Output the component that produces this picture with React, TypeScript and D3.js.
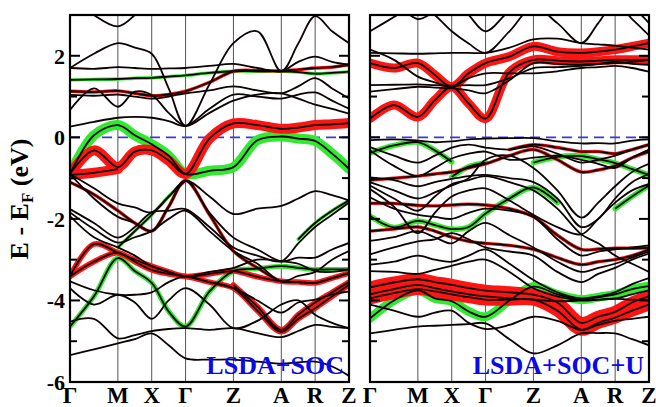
import React, { useEffect, useRef } from 'react';
import * as d3 from 'd3';

const kLabels = ['Γ', 'M', 'X', 'Γ', 'Z', 'A', 'R', 'Z'];
const kNodes = [0, 1, 1.707, 2.414, 3.414, 4.414, 5.121, 5.828];
// k points where energies were read (nodes plus segment midpoints)
const kPath = [0, 0.5, 1, 1.354, 1.707, 2.061, 2.414, 2.914, 3.414, 3.914, 4.414, 4.768, 5.121, 5.475, 5.828];
const yMajor = [-6, -4, -2, 0, 2];
const yMinor = [-5, -3, -1, 1];
const N = null;

// ---------- LSDA+SOC ----------
const socBlack = [
  [3.5, 3.0, 2.72, 3.0, 3.5, 3.6, 3.6, 3.5, 3.3, 3.3, 3.4, 3.3, 3.2, 3.2, 3.2],
  [1.7, 2.05, 2.31, 2.2, 2.05, 1.2, 0.28, 1.3, 2.31, 2.6, 1.62, 2.3, 2.97, 2.6, 2.31],
  [1.7, 1.68, 1.72, 1.7, 1.68, 1.69, 1.7, 1.75, 1.8, 1.7, 1.62, 1.85, 1.98, 1.85, 1.78],
  [1.04, 1.02, 1.05, 1.0, 0.95, 1.0, 1.08, 1.15, 1.25, 1.15, 1.08, 1.25, 1.45, 1.2, 0.95],
  [0.67, 1.2, 0.75, 1.12, 1.04, 0.6, 0.28, 0.6, 0.9, 1.05, 1.08, 0.95, 0.8, 0.7, 0.58],
  [0.26, 0.38, 0.48, 0.5, 0.48, 0.4, 0.28, 0.7, 1.05, 1.0, 0.95, 1.05, 1.1, 0.9, 0.7],
  [-0.9, -1.25, -1.62, -1.72, -1.84, -1.46, -1.06, -1.45, -1.88, -1.75, -1.68, -1.5, -1.32, -1.42, -1.55],
  [-0.9, -1.5, -1.95, -2.1, -2.3, -1.7, -1.06, -1.85, -2.46, -2.75, -3.04, -2.95, -2.95, -2.75, -2.59],
  [-1.76, -2.1, -2.46, -2.2, -1.84, -1.8, -1.76, -2.2, -2.7, -2.9, -3.04, -2.6, -2.2, -1.9, -1.6],
  [-1.84, -2.25, -2.58, -2.45, -2.3, -2.0, -1.8, -2.3, -2.79, -3.1, -3.53, -3.4, -3.3, -3.0, -2.79],
  [-1.93, -2.45, -2.7, -2.9, -3.16, -3.3, -3.41, -3.3, -3.2, -3.0, -3.04, -3.1, -3.28, -3.3, -3.24],
  [-3.53, -3.75, -3.86, -3.86, -3.8, -3.55, -3.41, -3.55, -3.7, -4.0, -4.3, -4.05, -3.98, -3.85, -3.78],
  [-3.7, -4.1, -3.86, -4.05, -4.45, -4.0, -3.7, -4.1, -4.68, -4.5, -4.1, -4.0, -4.35, -4.55, -4.68],
  [-4.52, -4.45, -4.93, -4.85, -4.75, -4.7, -4.68, -4.72, -4.68, -4.8, -4.9, -4.75, -4.6, -4.65, -4.68],
  [-5.34, -5.2, -5.05, -4.95, -4.81, -5.1, -5.42, -5.45, -5.45, -5.5, -5.55, -5.52, -5.5, -5.62, -5.85],
];
const socRedThin = [
  [1.13, 1.11, 1.14, 1.08, 1.02, 1.05, 1.13, 1.35, 1.62, 1.64, 1.63, 1.66, 1.7, 1.72, 1.78],
  [-1.1, -1.4, -1.8, -2.1, -2.3, -1.7, -1.06, -1.9, -2.79, -3.2, -3.53, -3.55, -3.57, -3.45, -3.33],
];
const socGreenThin = [
  [1.41, 1.42, 1.43, 1.45, 1.46, 1.49, 1.52, 1.58, 1.62, 1.62, 1.62, 1.6, 1.56, 1.58, 1.61],
  [N, N, -2.7, -2.3, -1.9, -1.45, -1.06, N, N, N, N, N, N, N, N],
  [N, N, N, N, N, N, N, N, N, N, N, -2.5, -2.1, -1.8, -1.55],
];
const socRedMid = [
  [-3.41, -2.62, -2.83, -3.0, -3.16, -3.3, -3.41, -3.35, -3.28, -3.42, -3.53, -3.55, -3.57, -3.45, -3.33],
  [-3.41, -3.05, -2.83, -3.05, -3.25, -3.35, -3.41, -3.55, -3.7, -4.25, -4.77, -4.45, -4.19, -3.9, -3.62],
  [N, N, N, N, N, N, N, N, -3.62, -4.15, -4.72, -4.35, -4.05, -3.8, -3.55],
];
const socGreenMid = [
  [-4.64, -3.9, -2.96, -3.28, -3.57, -4.27, -4.64, -3.78, -3.28, -3.22, -3.16, -3.2, -3.24, -3.24, -3.24],
];
const socRedFat = [
  [-0.9, -0.32, -0.73, -0.35, -0.32, -0.57, -0.9, -0.03, 0.34, 0.3, 0.21, 0.24, 0.3, 0.32, 0.35],
  [-0.92, -0.87, -0.78, N, N, N, N, N, N, N, N, N, N, N, N],
];
const socGreenFat = [
  [-0.9, 0.05, 0.3, 0.05, -0.17, -0.45, -0.9, -0.82, -0.73, -0.07, 0.02, -0.03, -0.09, -0.4, -0.77],
];

// ---------- LSDA+SOC+U ----------
const socUBlack = [
  [3.4, 3.3, 2.9, 3.1, 3.4, 3.0, 2.6, 3.1, 3.4, 3.4, 3.4, 3.4, 3.4, 3.2, 2.8],
  [2.6, 2.95, 3.3, 3.0, 2.6, 2.3, 2.07, 2.6, 3.2, 2.8, 2.31, 2.8, 3.3, 2.9, 2.5],
  [2.07, 2.06, 2.05, 2.06, 2.07, 2.07, 2.07, 2.2, 2.4, 2.42, 2.31, 2.28, 2.25, 2.2, 2.15],
  [2.15, 1.9, 1.49, 1.35, 1.24, 1.45, 1.57, 1.57, 1.57, 1.62, 1.7, 1.72, 1.75, 1.7, 1.61],
  [1.28, 1.29, 1.3, 1.28, 1.27, 1.28, 1.28, 1.45, 1.7, 1.72, 1.75, 1.8, 1.85, 1.8, 1.78],
  [1.12, 1.18, 1.24, 1.22, 1.2, 1.15, 1.08, 1.4, 1.82, 1.8, 1.78, 1.8, 1.82, 1.85, 1.9],
  [-0.07, -0.05, -0.08, -0.12, -0.1, -0.05, -0.03, -0.02, -0.02, -0.1, -0.15, -0.14, -0.15, -0.08, -0.05],
  [-0.24, -0.45, -0.62, -0.45, -0.25, -0.18, -0.25, -0.3, -0.22, -0.4, -0.62, -0.55, -0.45, -0.3, -0.18],
  [-0.32, -0.7, -0.95, -0.75, -0.52, -0.4, -0.35, -0.55, -0.5, -0.45, -0.55, -0.65, -0.75, -0.5, -0.3],
  [-0.98, -1.05, -1.2, -1.1, -1.02, -0.95, -0.92, -1.0, -1.1, -1.5, -2.2, -2.0, -1.5, -1.1, -0.9],
  [-1.1, -1.3, -1.5, -1.35, -1.18, -1.0, -0.55, -0.45, -0.75, -1.3, -1.97, -1.6, -1.2, -0.85, -0.65],
  [-1.18, -1.5, -1.8, -1.45, -1.15, -1.05, -0.95, -1.1, -1.3, -1.75, -2.38, -2.6, -2.9, -3.1, -3.3],
  [-1.27, -1.7, -2.35, -1.85, -1.45, -1.3, -1.25, -1.55, -1.9, -2.2, -2.38, -2.0, -1.6, -1.3, -1.15],
  [-1.47, -1.75, -1.9, -1.95, -2.0, -1.85, -1.75, -1.8, -1.95, -2.5, -2.9, -2.8, -2.75, -2.7, -2.65],
  [-2.54, -2.45, -2.3, -2.45, -2.6, -2.3, -2.1, -2.4, -2.7, -3.05, -3.3, -3.2, -3.1, -2.95, -2.8],
  [-2.87, -2.7, -2.55, -2.5, -2.35, -2.5, -2.7, -2.8, -2.9, -3.3, -3.55, -3.35, -3.2, -3.0, -2.85],
  [-3.12, -3.05, -2.9, -3.0, -3.05, -2.9, -2.75, -3.1, -3.5, -3.8, -3.95, -3.9, -3.8, -3.6, -3.45],
  [-3.28, -3.3, -3.35, -3.25, -3.15, -3.05, -3.0, -3.3, -3.7, -3.9, -4.0, -3.98, -3.95, -3.85, -3.75],
  [-3.85, -3.72, -3.62, -3.7, -3.78, -3.85, -3.9, -3.95, -3.98, -4.02, -4.0, -3.98, -3.96, -3.98, -4.0],
  [-4.1, -4.25, -4.4, -4.3, -4.25, -4.55, -4.7, -4.6, -4.4, -4.5, -4.72, -4.6, -4.5, -4.45, -4.4],
  [-4.81, -4.72, -4.64, -4.62, -4.6, -4.58, -4.56, -4.95, -5.3, -5.1, -4.81, -4.8, -4.81, -4.95, -5.1],
];
const socURedThin = [
  [-1.62, -1.62, -1.67, -1.68, -1.66, -1.64, -1.66, -1.75, -1.95, -2.4, -2.75, -2.74, -2.72, -2.72, -2.71],
  [-1.05, -1.0, -0.95, -0.9, -0.85, -0.75, -0.65, -0.45, -0.3, -0.55, -0.85, -0.8, -0.7, -0.5, -0.35],
  [-2.3, -2.25, -2.2, -2.3, -2.45, -2.55, -2.6, -2.65, -2.75, -2.95, -3.12, -3.05, -3.0, -2.9, -2.75],
  [N, N, N, N, N, N, N, -0.3, -0.18, -0.25, -0.35, -0.35, -0.4, -0.3, -0.18],
];
const socUGreenMid = [
  [-0.38, -0.2, -0.12, -0.32, -0.6, N, N, N, N, N, N, N, N, N, N],
  [N, N, N, N, -0.97, -0.72, -0.62, N, N, N, N, N, N, N, N],
  [-1.93, -2.21, -2.05, -2.15, -2.25, -2.2, -1.87, -1.5, -1.23, -1.6, N, N, N, N, N],
  [N, N, N, N, N, N, N, N, N, N, N, N, -1.75, -1.45, -1.18],
  [N, N, N, N, N, N, N, N, -0.62, -0.48, -0.46, -0.54, -0.63, -0.78, -0.92],
];
const socURedFat = [
  [0.46, 0.79, 0.5, 0.91, 1.24, 0.83, 0.46, 1.6, 1.9, 1.88, 1.86, 1.88, 1.9, 1.9, 1.9],
  [1.82, 1.7, 1.82, 1.53, 1.24, 1.57, 1.82, 1.98, 2.23, 2.1, 2.07, 2.1, 2.15, 2.23, 2.31],
];
const socURedHeavy = [
  [-3.68, -3.56, -3.48, -3.55, -3.62, -3.7, -3.76, -3.8, -3.86, -4.05, -4.55, -4.4, -4.28, -4.05, -3.9],
  [-3.95, -3.82, -3.72, -3.78, -3.85, -3.92, -3.98, -3.98, -3.98, -4.25, -4.72, -4.55, -4.42, -4.25, -4.1],
];
const socUGreenFat = [
  [-4.44, -4.0, -3.75, -3.95, -4.02, -4.27, -4.4, -4.0, -3.66, -3.85, -3.98, -3.92, -3.85, -3.72, -3.65],
];

const RED = '#ff1414';
const GREEN = '#30ea30';
const FONT = "'Liberation Serif', 'Times New Roman', serif";

const App = () => {
  const svgRef = useRef(null);

  useEffect(() => {
    const svg = d3.select(svgRef.current);
    svg.selectAll('*').remove();

    const top = 15, bottom = 382;
    const y = d3.scaleLinear().domain([-6, 3]).range([bottom, top]);

    const panels = [
      { x0: 70, x1: 349, title: 'LSDA+SOC',
        layers: [
          { bands: socGreenFat, color: GREEN, w: 10 },
          { bands: socRedFat, color: RED, w: 10 },
          { bands: socGreenMid, color: GREEN, w: 5 },
          { bands: socRedMid, color: RED, w: 5.5 },
          { bands: socGreenThin, color: GREEN, w: 3.4 },
          { bands: socRedThin, color: RED, w: 3.4 },
        ],
        black: socBlack },
      { x0: 370, x1: 649, title: 'LSDA+SOC+U',
        layers: [
          { bands: socUGreenFat, color: GREEN, w: 9 },
          { bands: socURedHeavy, color: RED, w: 12 },
          { bands: socURedFat, color: RED, w: 9 },
          { bands: socUGreenMid, color: GREEN, w: 5.5 },
          { bands: socURedThin, color: RED, w: 3.4 },
        ],
        black: socUBlack },
    ];

    panels.forEach((p, pi) => {
      const x = d3.scaleLinear().domain([0, kPath[kPath.length - 1]]).range([p.x0, p.x1]);
      const line = d3.line<any>()
        .defined(d => d != null)
        .x((d, i) => x(kPath[i]))
        .y(d => y(d))
        .curve(d3.curveCatmullRom.alpha(0.5));

      const clipId = 'clip' + pi;
      svg.append('clipPath').attr('id', clipId)
        .append('rect')
        .attr('x', p.x0).attr('y', top)
        .attr('width', p.x1 - p.x0).attr('height', bottom - top);

      const g = svg.append('g').attr('clip-path', `url(#${clipId})`);

      // high symmetry lines
      g.selectAll('line.k')
        .data(kNodes.slice(1, -1))
        .enter().append('line')
        .attr('x1', d => x(d)).attr('x2', d => x(d))
        .attr('y1', top).attr('y2', bottom)
        .attr('stroke', '#555').attr('stroke-width', 1);

      // Fermi level
      g.append('line')
        .attr('x1', p.x0).attr('x2', p.x1)
        .attr('y1', y(0)).attr('y2', y(0))
        .attr('stroke', '#3a3ad8').attr('stroke-width', 1.6)
        .attr('stroke-dasharray', '10,6');

      // weighted (fat) bands
      p.layers.forEach(layer => {
        layer.bands.forEach(b => {
          g.append('path')
            .attr('d', line(b))
            .attr('fill', 'none')
            .attr('stroke', layer.color)
            .attr('stroke-width', layer.w)
            .attr('stroke-linecap', 'round')
            .attr('stroke-linejoin', 'round');
        });
      });

      // all bands as thin dark lines
      const allBands = [...p.black, ...p.layers.flatMap(l => l.bands)];
      allBands.forEach(b => {
        g.append('path')
          .attr('d', line(b))
          .attr('fill', 'none')
          .attr('stroke', '#0c0202')
          .attr('stroke-width', 1.8);
      });

      // frame
      svg.append('rect')
        .attr('x', p.x0).attr('y', top)
        .attr('width', p.x1 - p.x0).attr('height', bottom - top)
        .attr('fill', 'none').attr('stroke', '#000').attr('stroke-width', 2.2);

      // ticks, inward on both sides
      const ticks = [...yMajor.map(v => ({ v, len: 10 })), ...yMinor.map(v => ({ v, len: 7 }))];
      ticks.forEach(t => {
        svg.append('line')
          .attr('x1', p.x0).attr('x2', p.x0 + t.len)
          .attr('y1', y(t.v)).attr('y2', y(t.v))
          .attr('stroke', '#000').attr('stroke-width', 2);
        svg.append('line')
          .attr('x1', p.x1 - t.len).attr('x2', p.x1)
          .attr('y1', y(t.v)).attr('y2', y(t.v))
          .attr('stroke', '#000').attr('stroke-width', 2);
      });

      // k labels
      svg.selectAll(null)
        .data(kNodes)
        .enter().append('text')
        .attr('x', d => x(d))
        .attr('y', 403)
        .attr('text-anchor', 'middle')
        .attr('font-family', FONT)
        .attr('font-weight', 'bold')
        .attr('font-size', 23)
        .text((d, i) => kLabels[i]);

      // panel title
      svg.append('text')
        .attr('x', p.x1 - 5)
        .attr('y', 374)
        .attr('text-anchor', 'end')
        .attr('font-family', FONT)
        .attr('font-weight', 'bold')
        .attr('font-size', 26)
        .attr('fill', '#0a0ae6')
        .text(p.title);

      if (pi === 0) {
        svg.selectAll(null)
          .data(yMajor)
          .enter().append('text')
          .attr('x', 65)
          .attr('y', d => y(d) + 8)
          .attr('text-anchor', 'end')
          .attr('font-family', FONT)
          .attr('font-weight', 'bold')
          .attr('font-size', 22)
          .text(d => String(d));
      }
    });

    // axis title
    const t = svg.append('text')
      .attr('transform', 'translate(28,199) rotate(-90)')
      .attr('text-anchor', 'middle')
      .attr('font-family', FONT)
      .attr('font-weight', 'bold')
      .attr('font-size', 26);
    t.append('tspan').text('E - E');
    t.append('tspan').attr('font-size', 17).attr('dy', 5).text('F');
    t.append('tspan').attr('dy', -5).text(' (eV)');
  }, []);

  return (
    <svg ref={svgRef} width="656" height="407"
      style={{ position: 'absolute', left: 0, top: 0, background: '#fff' }}>
    </svg>
  );
};

export default App;
